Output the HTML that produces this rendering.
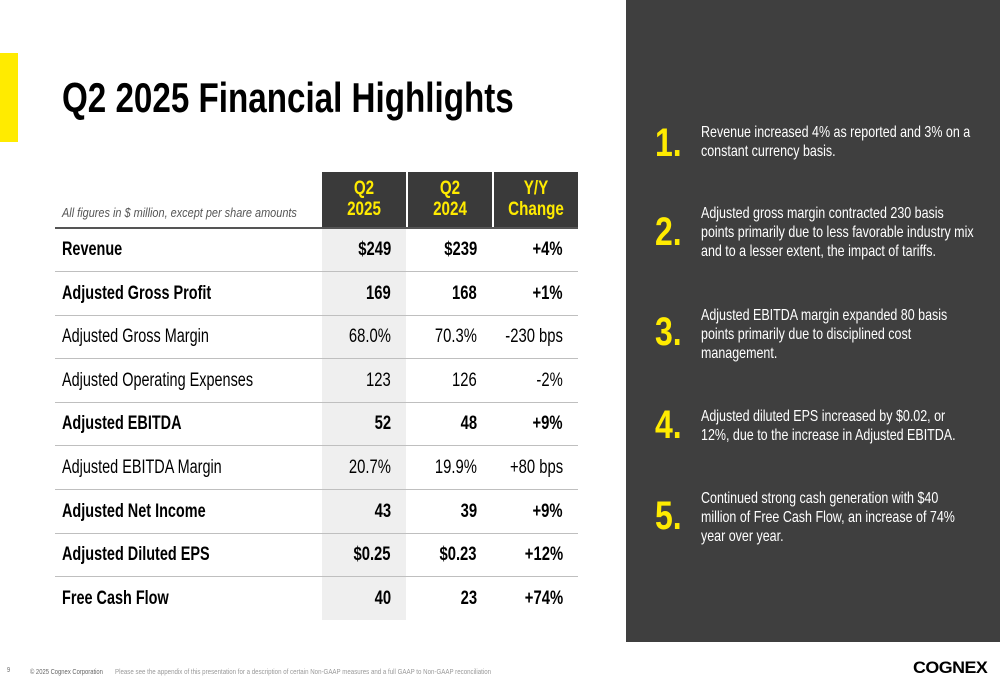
<!DOCTYPE html>
<html><head><meta charset="utf-8"><style>
body{margin:0;width:1000px;height:685px;position:relative;overflow:hidden;background:#fff;font-family:"Liberation Sans",sans-serif;color:#000}
.abs{position:absolute}
.n{transform:scaleX(.8);transform-origin:left top}
.row{position:absolute;left:55px;width:523px;height:43px;border-bottom:1px solid #bfbfbf;font-size:19px}
.row span{position:absolute;top:11px;white-space:nowrap}
.lab{left:7px;transform:scaleX(.76);transform-origin:left top}
.v1,.v2,.v3{transform:scaleX(.78);transform-origin:right top}
.v1{right:187px}.v2{right:101px}.v3{right:15px}
.b{font-weight:bold}
.hd{position:absolute;top:172px;height:56px;width:84px;background:#3a3a3a;color:#ffeb00;font-weight:bold;font-size:19px;text-align:center;line-height:21px;padding-top:6px;box-sizing:border-box}
.hd div{transform:scaleX(.8)}
.num{position:absolute;left:655px;color:#ffeb00;font-weight:bold;font-size:40px;transform:scaleX(.8);transform-origin:left top}
.txt{position:absolute;left:701px;width:350px;color:#fff;font-size:16px;line-height:19px;transform:scaleX(.78);transform-origin:left top}
</style></head><body>
<div class="abs" style="left:0;top:53px;width:18px;height:89px;background:#ffeb00"></div>
<div class="abs n" style="left:62px;top:74px;font-size:42px;font-weight:bold;white-space:nowrap;transform:scaleX(.79)">Q2 2025 Financial Highlights</div>
<div class="abs n" style="left:62px;top:205px;font-size:13px;font-style:italic;color:#555;white-space:nowrap;transform:scaleX(.84)">All figures in $ million, except per share amounts</div>
<div class="abs" style="left:322px;top:228px;width:84px;height:392px;background:#efefef"></div>
<div class="hd" style="left:322px"><div>Q2<br>2025</div></div>
<div class="hd" style="left:408px"><div>Q2<br>2024</div></div>
<div class="hd" style="left:494px"><div>Y/Y<br>Change</div></div>
<div class="abs" style="left:55px;top:227px;width:523px;height:2px;background:#555"></div>
<div id="rows"></div>
<div class="abs" style="left:626px;top:0;width:374px;height:642px;background:#3f3f3f"></div>
<div class="num" style="top:121px">1.</div>
<div class="txt" style="top:123px">Revenue increased 4% as reported and 3% on a constant currency basis.</div>
<div class="num" style="top:210px">2.</div>
<div class="txt" style="top:204px">Adjusted gross margin contracted 230 basis points primarily due to less favorable industry mix and to a lesser extent, the impact of tariffs.</div>
<div class="num" style="top:310px">3.</div>
<div class="txt" style="top:306px">Adjusted EBITDA margin expanded 80 basis points primarily due to disciplined cost management.</div>
<div class="num" style="top:403px">4.</div>
<div class="txt" style="top:407px">Adjusted diluted EPS increased by $0.02, or 12%, due to the increase in Adjusted EBITDA.</div>
<div class="num" style="top:494px">5.</div>
<div class="txt" style="top:489px">Continued strong cash generation with $40 million of Free Cash Flow, an increase of 74% year over year.</div>
<div class="abs n" style="left:7px;top:667px;font-size:7px;color:#666">9</div>
<div class="abs n" style="left:30px;top:667px;font-size:7.5px;color:#666;white-space:nowrap;transform:scaleX(.78)">© 2025 Cognex Corporation</div>
<div class="abs n" style="left:115px;top:667px;font-size:7.5px;color:#999;white-space:nowrap;transform:scaleX(.82)">Please see the appendix of this presentation for a description of certain Non-GAAP measures and a full GAAP to Non-GAAP reconciliation</div>
<div class="abs" style="left:913px;top:658px;font-size:17px;font-weight:bold;letter-spacing:-0.5px;transform:scaleX(1.05);transform-origin:left top">COGNEX</div>
<script>
const labels=["Revenue","Adjusted Gross Profit","Adjusted Gross Margin","Adjusted Operating Expenses","Adjusted EBITDA","Adjusted EBITDA Margin","Adjusted Net Income","Adjusted Diluted EPS","Free Cash Flow"];
const q2025=["$249","169","68.0%","123","52","20.7%","43","$0.25","40"];
const q2024=["$239","168","70.3%","126","48","19.9%","39","$0.23","23"];
const change=["+4%","+1%","-230 bps","-2%","+9%","+80 bps","+9%","+12%","+74%"];
const bold=[1,1,0,0,1,0,1,1,1];
const c=document.getElementById('rows');
labels.forEach((l,i)=>{
 const r=document.createElement('div');
 
 
 r.className='row'+(bold[i]?' b':'');
 r.style.top=(228+i*43.6)+'px';
 if(i==8)r.style.borderBottom='none';
 r.innerHTML='<span class="lab">'+l+'</span><span class="v1">'+q2025[i]+'</span><span class="v2">'+q2024[i]+'</span><span class="v3">'+change[i]+'</span>';
 c.appendChild(r);
});
</script>
</body></html>
